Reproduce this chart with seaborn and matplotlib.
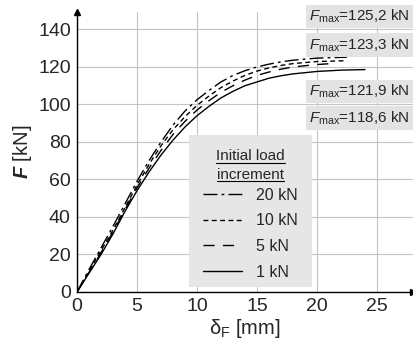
import numpy as np
import pandas as pd
import matplotlib
matplotlib.use("Agg")
import matplotlib.pyplot as plt
from matplotlib.patches import Rectangle
from matplotlib.lines import Line2D
import seaborn as sns

# ---- data ----
increments = ["20 kN", "10 kN", "5 kN", "1 kN"]

d_20 = [0, 1, 2, 3, 4, 5, 6, 7, 8, 9, 10, 11, 12, 13, 14, 15, 16, 17, 18, 20, 22.5]
f_20 = [0, 12, 23.5, 35, 47, 59, 70, 80, 89, 96.5, 102.5, 107.5, 112, 115.5, 118, 120, 121.5, 122.7, 123.6, 124.7, 125.2]

d_10 = [0, 1, 2, 3, 4, 5, 6, 7, 8, 9, 10, 11, 12, 13, 14, 15, 16, 17, 18, 20, 22.3]
f_10 = [0, 11, 22, 33, 45, 57, 68, 78, 86.5, 93.5, 99.5, 104.5, 109, 112.5, 115.5, 117.8, 119.5, 120.8, 121.8, 122.9, 123.3]

d_5 = [0, 1, 2, 3, 4, 5, 6, 7, 8, 9, 10, 11, 12, 13, 14, 15, 16, 17, 18, 20, 21.5]
f_5 = [0, 10.5, 21, 32, 44, 55.5, 66, 75.5, 84, 91, 97, 102, 106.5, 110, 113, 115.5, 117.3, 118.8, 120, 121.3, 121.9]

d_1 = [0, 1, 2, 3, 4, 5, 6, 7, 8, 9, 10, 11, 12, 13, 14, 15, 16, 17, 18, 20, 22, 24]
f_1 = [0, 10, 20, 31, 43, 54, 64, 73, 81, 88, 94, 99, 103.5, 107, 110, 112, 114, 115.3, 116.3, 117.6, 118.3, 118.6]

fmax_labels = ["125,2", "123,3", "121,9", "118,6"]
legend_title = ["Initial load", "increment"]

x_ticks = [0, 5, 10, 15, 20, 25]
y_ticks = [0, 20, 40, 60, 80, 100, 120, 140]

# ---- build long-form table ----
frames = []
for name, d, f in zip(increments, [d_20, d_10, d_5, d_1], [f_20, f_10, f_5, f_1]):
    frames.append(pd.DataFrame({"d": d, "F": f, "inc": name}))
df = pd.concat(frames, ignore_index=True)

sns.set_style("white")
plt.rcParams["font.family"] = ["Liberation Sans", "DejaVu Sans"]
plt.rcParams["mathtext.fontset"] = "custom"
plt.rcParams["mathtext.rm"] = "Liberation Sans"
plt.rcParams["mathtext.it"] = "Liberation Sans:italic"
plt.rcParams["mathtext.bf"] = "Liberation Sans:italic:bold"

fig = plt.figure(figsize=(4.13, 3.48), dpi=100)
ax = fig.add_axes([77 / 413, 56 / 348, 336 / 413, 280 / 348])

dash_map = {"20 kN": (10, 3, 2, 3), "10 kN": (3.5, 2.5), "5 kN": (8, 6), "1 kN": ""}
sns.lineplot(data=df, x="d", y="F", hue="inc", style="inc",
             hue_order=increments, style_order=increments,
             palette=["black"] * 4, dashes=dash_map, lw=1.0,
             sort=False, estimator=None, ax=ax, legend=True)

ax.set_xlim(0, 28)
ax.set_ylim(0, 149.3)
ax.set_xticks(x_ticks)
ax.set_yticks(y_ticks)
ax.tick_params(labelsize=14, length=3, width=0.8, color="black", pad=1.5)
ax.grid(True, color="#c4c4c4", lw=0.8)
ax.set_axisbelow(True)
for s in ["top", "right"]:
    ax.spines[s].set_visible(False)
for s in ["left", "bottom"]:
    ax.spines[s].set_color("black")
    ax.spines[s].set_linewidth(1.0)

# arrows
ax.plot(1, 0, ">", color="black", ms=5, transform=ax.get_yaxis_transform(), clip_on=False)
ax.plot(0, 1, "^", color="black", ms=5, transform=ax.get_xaxis_transform(), clip_on=False)

ax.set_xlabel("δ$_\\mathrm{F}$ [mm]", fontsize=14.5, labelpad=1)
ax.set_ylabel(r"$\mathbf{F}$ [kN]", fontsize=14.5, labelpad=3)

# legend box
ax.add_patch(Rectangle((9.33, 2.7), 10.27, 81, facecolor="#e6e6e6", edgecolor="none", zorder=1.5))
title_texts = []
for i, t in enumerate(legend_title):
    title_texts.append(ax.text(14.45, 72.3 - i * 9.8, t, ha="center", va="center",
                               fontsize=11, zorder=3))
handles, labels = ax.get_legend_handles_labels()
leg = ax.legend(handles, labels, frameon=False, fontsize=11.5,
                loc="upper left", bbox_to_anchor=(10.25, 57.2),
                bbox_transform=ax.transData, handlelength=2.45, handletextpad=0.85,
                labelspacing=0.66, borderpad=0.2, borderaxespad=0)
leg.set_zorder(3)

# Fmax annotations
fmax_y = [147, 131.7, 107, 92.8]
for lab, yy in zip(fmax_labels, fmax_y):
    ax.text(27.72, yy, r"$\mathit{F}_{\mathrm{max}}$=" + lab + " kN", ha="right", va="center",
            fontsize=11, clip_on=False, zorder=4,
            bbox=dict(boxstyle="square,pad=0.2", facecolor="#e3e3e3", edgecolor="none"))

# underline the legend title
fig.canvas.draw()
r = fig.canvas.get_renderer()
for t in title_texts:
    bb = t.get_window_extent(r)
    y = bb.y0 + 0.5
    fig.add_artist(Line2D([bb.x0, bb.x1], [y, y], transform=None, color="black", lw=0.8))

fig.savefig("out.png", dpi=100)
